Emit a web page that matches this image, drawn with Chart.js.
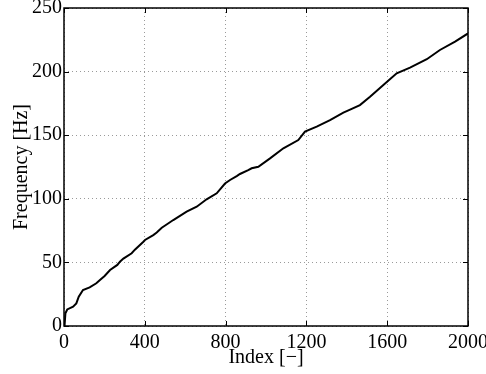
<!DOCTYPE html>
<html>
<head>
<meta charset="utf-8">
<script src="https://cdn.jsdelivr.net/npm/chart.js@4/dist/chart.umd.min.js"></script>
<style>
  html, body { margin: 0; padding: 0; background: #fff; }
  #wrap { width: 486px; height: 374px; }
</style>
</head>
<body>
<div id="wrap"><canvas id="grafico"></canvas></div>
<script>
// Dados
const indices = [0, 3, 7, 16, 45, 61, 73, 94, 127, 160, 178, 201, 228, 264, 277, 294, 335, 351, 393, 401,
    442, 459, 484, 508, 541, 607, 657, 706, 756, 797, 822, 855, 871, 912, 929, 962, 1020, 1086, 1160,
    1193, 1251, 1317, 1383, 1408, 1465, 1515, 1581, 1647, 1713, 1796, 1861, 1936, 2000];
const frequencias = [0, 1, 10, 13, 15.2, 17.8, 23, 28.3, 30.4, 33.6, 36.2, 39.3, 44, 48, 50.6, 53, 57.2, 60, 66.3, 67.6,
    71.5, 73.5, 77.3, 79.8, 83.3, 89.9, 93.8, 99.6, 104.3, 112, 114.8, 117.9, 119.5, 122.6, 124, 125.2, 131.8, 139.7, 146.2,
    152.8, 156.7, 161.8, 167.7, 169.5, 173.7, 180.3, 189.5, 198.7, 203.1, 209.7, 217, 223.5, 230];
const ticksX = [0, 400, 800, 1200, 1600, 2000];
const ticksY = [0, 50, 100, 150, 200, 250];

const fonte = { family: '"Liberation Serif", "Times New Roman", serif', size: 20 };

// Caixa com marcas para dentro (estilo MATLAB)
const caixaPlugin = {
    id: 'caixa',
    afterDraw(chart) {
        const ctx = chart.ctx;
        const a = chart.chartArea;
        const sx = chart.scales.x;
        const sy = chart.scales.y;
        ctx.save();
        ctx.strokeStyle = '#000';
        ctx.lineWidth = 1;
        ctx.beginPath();
        ticksX.forEach(v => {
            const px = Math.round(sx.getPixelForValue(v)) + 0.5;
            ctx.moveTo(px, a.bottom); ctx.lineTo(px, a.bottom - 5);
            ctx.moveTo(px, a.top); ctx.lineTo(px, a.top + 5);
        });
        ticksY.forEach(v => {
            const py = Math.round(sy.getPixelForValue(v)) + 0.5;
            ctx.moveTo(a.left, py); ctx.lineTo(a.left + 5, py);
            ctx.moveTo(a.right, py); ctx.lineTo(a.right - 5, py);
        });
        ctx.stroke();
        ctx.lineWidth = 1.5;
        ctx.strokeRect(a.left, a.top, a.right - a.left, a.bottom - a.top);
        ctx.restore();
    }
};

new Chart(document.getElementById('grafico'), {
    type: 'line',
    data: {
        datasets: [{
            data: indices.map((x, i) => ({ x: x, y: frequencias[i] })),
            borderColor: '#000',
            borderWidth: 2,
            pointRadius: 0,
            tension: 0,
            fill: false
        }]
    },
    options: {
        responsive: true,
        maintainAspectRatio: false,
        animation: false,
        layout: { padding: { top: 8, right: 18, left: 0, bottom: 0 } },
        plugins: {
            legend: { display: false },
            tooltip: { enabled: false }
        },
        scales: {
            x: {
                type: 'linear',
                min: 0,
                max: 2000,
                afterBuildTicks: s => { s.ticks = ticksX.map(v => ({ value: v })); },
                afterFit: s => { s.height = 48; s.paddingLeft = 0; s.paddingRight = 0; },
                ticks: { color: '#000', font: fonte, padding: 5, maxRotation: 0, autoSkip: false,
                    callback: v => String(v) },
                grid: { color: '#9a9a9a', lineWidth: 1, drawTicks: false },
                border: { display: false, dash: [1, 3] },
                title: { display: true, text: 'Index [\u2212]', color: '#000', font: fonte, padding: { top: 0, bottom: 4 } }
            },
            y: {
                min: 0,
                max: 250,
                afterBuildTicks: s => { s.ticks = ticksY.map(v => ({ value: v })); },
                afterFit: s => { s.width = 64; s.paddingTop = 0; s.paddingBottom = 0; },
                ticks: { color: '#000', font: fonte, padding: 2, autoSkip: false,
                    callback: v => String(v) },
                grid: { color: '#9a9a9a', lineWidth: 1, drawTicks: false },
                border: { display: false, dash: [1, 3] },
                title: { display: true, text: 'Frequency [Hz]', color: '#000', font: fonte, padding: { top: 10, bottom: 0 } }
            }
        }
    },
    plugins: [caixaPlugin]
});
</script>
</body>
</html>
